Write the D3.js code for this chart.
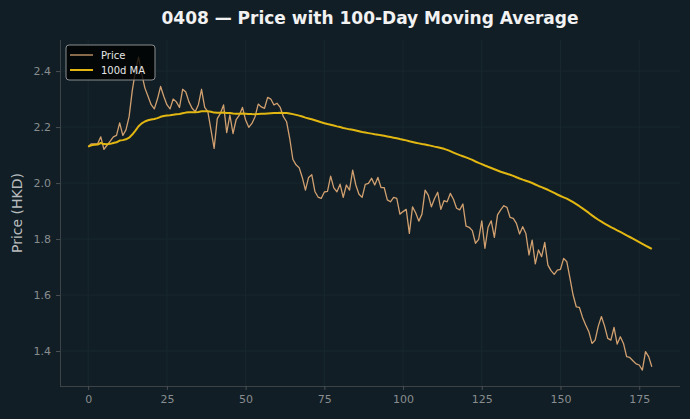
<!DOCTYPE html>
<html><head><meta charset="utf-8">
<script src="https://cdn.jsdelivr.net/npm/d3@7"></script>
<style>
html,body{margin:0;padding:0;background:#111e25;}
svg{display:block;font-family:"DejaVu Sans",sans-serif;}
</style></head>
<body><svg id="c" width="690" height="419"></svg>
<script>
const title = "0408 — Price with 100-Day Moving Average";
const yLabel = "Price (HKD)";
const seriesNames = ["Price", "100d MA"];
const xTicks = [0, 25, 50, 75, 100, 125, 150, 175];
const yTicks = [1.4, 1.6, 1.8, 2.0, 2.2, 2.4];
const maWindow = 100;
const price = [
2.13,2.14,2.14,2.14,2.165,2.12,2.135,2.15,2.165,2.17,
2.215,2.17,2.19,2.237,2.33,2.40,2.45,2.39,2.34,2.31,
2.28,2.265,2.30,2.345,2.31,2.28,2.265,2.30,2.29,2.27,
2.335,2.325,2.29,2.267,2.255,2.28,2.335,2.27,2.255,2.19,
2.124,2.23,2.249,2.279,2.18,2.243,2.177,2.227,2.243,2.27,
2.225,2.199,2.213,2.237,2.282,2.272,2.267,2.306,2.30,2.279,
2.285,2.27,2.237,2.219,2.16,2.085,2.065,2.055,2.02,1.975,
2.02,2.03,1.97,1.95,1.945,1.968,1.97,2.025,1.983,1.969,
1.996,1.949,1.993,1.975,2.046,1.993,1.96,1.949,1.995,1.999,
2.017,1.993,2.02,1.984,1.984,1.94,1.933,1.949,1.945,1.889,
1.898,1.906,1.82,1.915,1.894,1.864,1.889,1.975,1.957,1.915,
1.945,1.967,1.906,1.937,1.933,1.963,1.942,1.91,1.904,1.925,
1.846,1.842,1.83,1.785,1.799,1.865,1.767,1.842,1.865,1.806,
1.886,1.904,1.919,1.913,1.877,1.874,1.856,1.818,1.844,1.82,
1.743,1.796,1.711,1.761,1.737,1.788,1.707,1.687,1.674,1.689,
1.692,1.731,1.719,1.66,1.60,1.558,1.556,1.52,1.493,1.469,
1.427,1.439,1.489,1.523,1.489,1.445,1.439,1.484,1.425,1.451,
1.427,1.38,1.377,1.365,1.354,1.35,1.332,1.398,1.38,1.344
];
// 100-day rolling mean (min periods 1)
const ma = price.map((v, i) => d3.mean(price.slice(Math.max(0, i - maWindow + 1), i + 1)));

const W = 690, H = 419;
const m = {left: 60, right: 680, top: 40, bottom: 386};
const svg = d3.select("#c");
svg.append("rect").attr("width", W).attr("height", H).attr("fill", "#111e25");

const x = d3.scaleLinear().domain([-8.95, 187.95]).range([m.left, m.right]);
const y = d3.scaleLinear().domain([1.275, 2.511]).range([m.bottom, m.top]);

// grid
const g = svg.append("g");
g.selectAll("line.vg").data(xTicks).join("line")
  .attr("x1", d => x(d)).attr("x2", d => x(d)).attr("y1", m.top).attr("y2", m.bottom)
  .attr("stroke", "#1b2931").attr("stroke-width", 0.8);
g.selectAll("line.hg").data(yTicks).join("line")
  .attr("y1", d => y(d)).attr("y2", d => y(d)).attr("x1", m.left).attr("x2", m.right)
  .attr("stroke", "#1b2931").attr("stroke-width", 0.8);

// axes
const xAxis = svg.append("g").attr("transform", `translate(0,${m.bottom})`)
  .call(d3.axisBottom(x).tickValues(xTicks).tickFormat(d3.format("d")).tickSizeOuter(0).tickSize(4).tickPadding(5));
const yAxis = svg.append("g").attr("transform", `translate(${m.left},0)`)
  .call(d3.axisLeft(y).tickValues(yTicks).tickFormat(d3.format(".1f")).tickSizeOuter(0).tickSize(4).tickPadding(5));
[xAxis, yAxis].forEach(a => {
  a.select(".domain").attr("stroke", "#3c4347").attr("stroke-width", 1);
  a.selectAll(".tick line").attr("stroke", "#4a5054");
  a.selectAll(".tick text").attr("fill", "#888d90").attr("font-size", 11).attr("font-family", "DejaVu Sans");
});
xAxis.select(".domain").attr("d", `M${m.left},0.5H${m.right}`);
yAxis.select(".domain").attr("d", `M0.5,${m.bottom}V${m.top}`);

const line = d3.line().x((d, i) => x(i)).y(d => y(d));
svg.append("path").datum(price).attr("d", line).attr("fill", "none")
  .attr("stroke", "#d1a070").attr("stroke-width", 1.3).attr("stroke-linejoin", "round");
svg.append("path").datum(ma).attr("d", line).attr("fill", "none")
  .attr("stroke", "#e3b712").attr("stroke-width", 2).attr("stroke-linejoin", "round");

// title & labels
svg.append("text").attr("x", 370).attr("y", 24).attr("text-anchor", "middle")
  .attr("fill", "#f2f2f2").attr("font-size", 17).attr("font-weight", "bold").text(title);
svg.append("text").attr("transform", `translate(22,${(m.top + m.bottom) / 2}) rotate(-90)`)
  .attr("text-anchor", "middle").attr("fill", "#b9bcbe").attr("font-size", 14).text(yLabel);

// legend
const lg = svg.append("g").attr("transform", "translate(66,45)");
lg.append("rect").attr("width", 89).attr("height", 35).attr("rx", 3)
  .attr("fill", "#000").attr("fill-opacity", 0.8).attr("stroke", "#8a8e90").attr("stroke-width", 1);
const colors = ["#d1a070", "#e3b712"], widths = [1.3, 2];
seriesNames.forEach((n, i) => {
  const yy = 10 + i * 15;
  lg.append("line").attr("x1", 4).attr("x2", 27).attr("y1", yy).attr("y2", yy)
    .attr("stroke", colors[i]).attr("stroke-width", widths[i]);
  lg.append("text").attr("x", 35).attr("y", yy + 4).attr("fill", "#e6e6e6")
    .attr("font-size", 10).text(n);
});
</script></body></html>
